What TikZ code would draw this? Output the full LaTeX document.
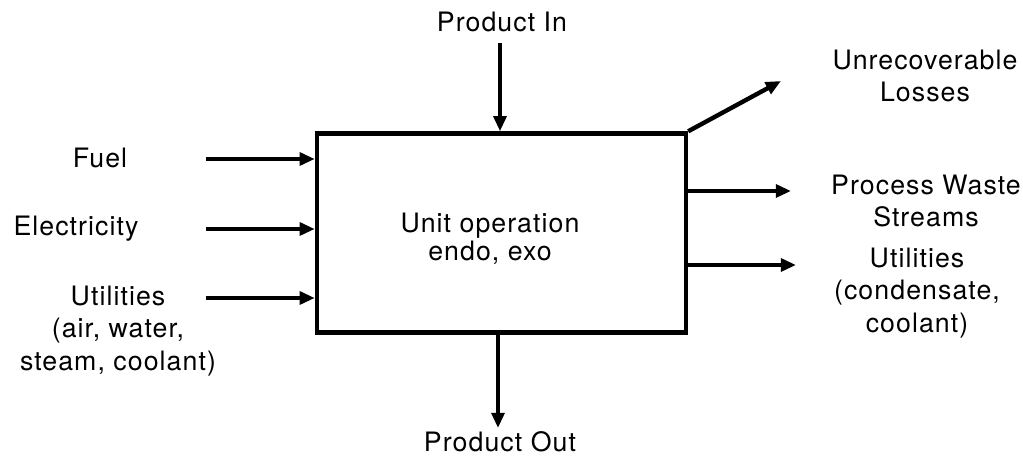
\documentclass[tikz,border=0pt]{standalone}
\usepackage{fontspec}
\setmainfont{TeX Gyre Heros}[LetterSpace=4]
\usetikzlibrary{arrows.meta}
\tikzset{
  lbl/.style={align=center, font=\fontsize{19}{23}\selectfont, inner sep=0pt},
  flow/.style={line width=1.1mm, -{Triangle[length=3.8mm, width=3.2mm]}},
}
\begin{document}
\begin{tikzpicture}[x=0.25mm, y=-0.25mm]
      \useasboundingbox (0,0) rectangle (1023,463);
      \node[draw, line width=1.1mm, minimum width=92.25mm, minimum height=49.75mm, lbl] (unit) at (501.5,233) {};
      \node[lbl, font=\fontsize{19}{20}\selectfont] (unittext) at (490,239) {Unit operation\\endo, exo};
      % inputs
      \node[lbl] (prodin) at (502,22) {Product In};
      \node[lbl] (fuel) at (100,158) {Fuel};
      \node[lbl] (elec) at (76,229) {Electricity};
      \node[lbl] (utilin) at (118,331) {Utilities\\(air, water,\\steam, coolant)};
      \coordinate (pin) at (500,43);
      \draw[flow] (pin) -- (pin |- unit.north);
      \foreach \n/\y in {fuelin/159, elecin/229, utilin/298} {
        \coordinate (\n) at (206,\y);
        \draw[flow] (\n) -- (\n -| unit.west);
      }
      % outputs
      \node[lbl] (prodout) at (500,442) {Product Out};
      \node[lbl] (losses) at (925,76) {Unrecoverable\\Losses};
      \node[lbl] (waste) at (926,201) {Process Waste\\Streams};
      \node[lbl] (utilout) at (917,293) {Utilities\\(condensate,\\coolant)};
      \coordinate (pout) at (498,428);
      \draw[flow] (pout |- unit.south) -- (pout);
      \coordinate (lossend) at (781,81);
      \draw[flow] (unit.north east) -- (lossend);
      \foreach \n/\x/\y in {wasteend/791/191, utilend/796/265} {
        \coordinate (\n) at (\x,\y);
        \draw[flow] (\n -| unit.east) -- (\n);
      }
\end{tikzpicture}
\end{document}
